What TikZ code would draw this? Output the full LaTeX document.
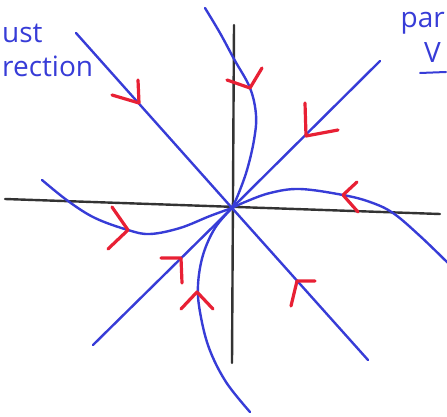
\documentclass[tikz,border=0pt]{standalone}
\usepackage{fontspec}
\newfontfamily\handfont{Open Sans}
\usetikzlibrary{calc}

\begin{document}
\begin{tikzpicture}[x=1pt,y=-1pt]
\tikzset{
  axisline/.style={draw=black!80,line width=2.4pt,line cap=round},
  eigenline/.style={draw=trajblue,line width=2.4pt,line cap=round},
  trajectory/.style={draw=trajblue,line width=2.4pt,line cap=round,line join=round},
  arrowvee/.style={draw=vred,line width=3.2pt,line cap=round,line join=round},
  handnote/.style={text=trajblue,font=\handfont\fontsize{28}{28}\selectfont,inner sep=0pt}
}
\definecolor{trajblue}{RGB}{55,60,215}
\definecolor{vred}{RGB}{232,32,52}
\useasboundingbox (0,0) rectangle (447,417);
% origin and ends of the axes
\coordinate (O) at (232,208);
\coordinate (xl) at (5,199);
\coordinate (xr) at (440,214);
\coordinate (yt) at (234,25);
\coordinate (yb) at (232,363);
% ends of the two straight-line solutions
\coordinate (fa) at (76,33);
\coordinate (fb) at (368,360);
\coordinate (sa) at (380,61);
\coordinate (sb) at (93,345);
\draw[axisline] (xl) -- (xr);
\draw[axisline] (yt) -- (yb);
\draw[eigenline] (fa) -- (O) -- (fb);
\draw[eigenline] (sa) -- (O) -- (sb);
% curved trajectories
\draw[trajectory] plot[smooth,tension=0.6] coordinates
  {(205,8) (220,33) (234,59) (250,88) (256,115) (254,140) (247,170) (238,195) (O)};
\draw[trajectory] plot[smooth,tension=0.6] coordinates
  {(449,264) (420,236) (393,213) (370,202) (343,195) (300,189) (270,193) (245,202) (O)};
\draw[trajectory] plot[smooth,tension=0.6] coordinates
  {(42,180) (68,201) (95,218) (128,230) (150,234) (180,228) (210,216) (O)};
\draw[trajectory] plot[smooth,tension=0.6] coordinates
  {(250,412) (226,382) (209,348) (200,312) (198,285) (203,255) (215,228) (O)};
% red arrowheads
\draw[arrowvee] (112,95) -- (139,103) -- (138,80);
\draw[arrowvee] (315,281) -- (297,281) -- (291,306);
\draw[arrowvee] (305,103) -- (306,136) -- (338,130);
\draw[arrowvee] (161,258) -- (181,258) -- (182,283);
\draw[arrowvee] (227,80) -- (250,88) -- (262,68);
\draw[arrowvee] (357,182) -- (343,195) -- (358,212);
\draw[arrowvee] (112,207) -- (128,230) -- (108,249);
\draw[arrowvee] (181,309) -- (197,292) -- (213,309);
% notes
\node[handnote,anchor=north west] (ust) at (2,24) {ust};
\node[handnote,anchor=north west] (rection) at (2,56) {rection};
\node[handnote,anchor=north east] (par) at (445,12) {par};
\node[handnote,anchor=north west] (vee) at (424,42) {V};
\draw[draw=trajblue,line width=2pt,line cap=round] (420,73) -- (446,72);
\end{tikzpicture}
\end{document}
